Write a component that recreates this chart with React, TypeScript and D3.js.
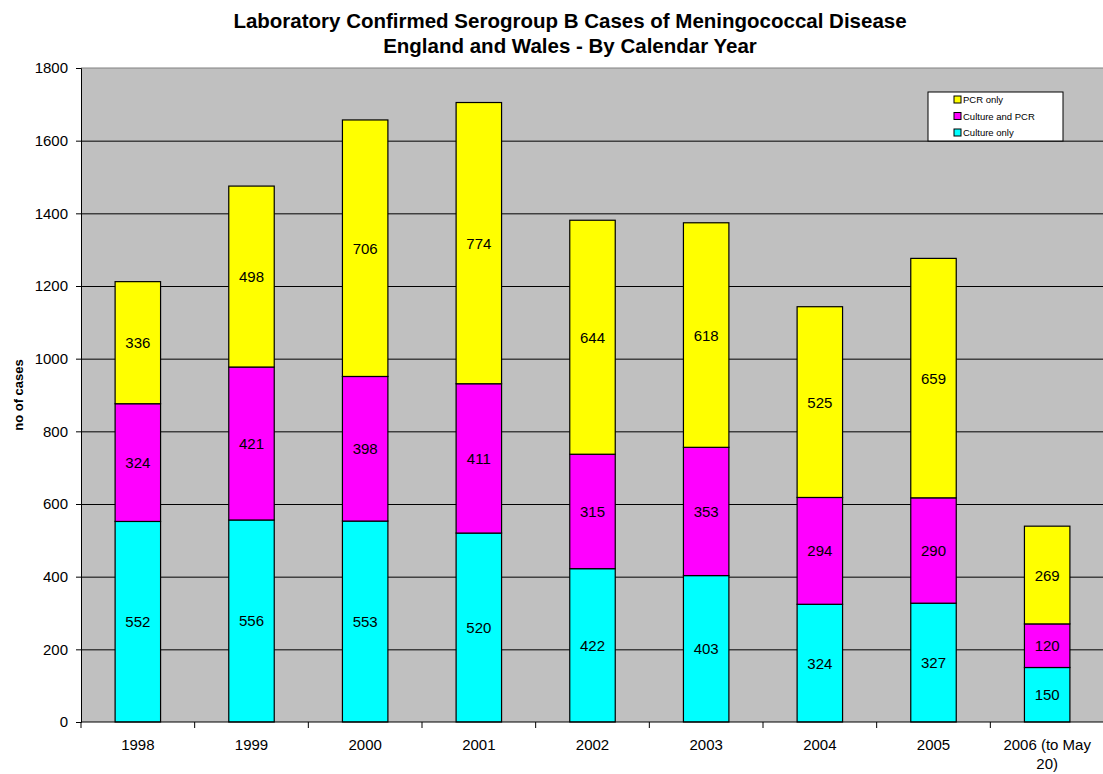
import React, { useEffect, useRef } from "react";
import { select, scaleBand, scaleLinear, stack, axisLeft, range, format } from "d3";

const years = ["1998", "1999", "2000", "2001", "2002", "2003", "2004", "2005", "2006 (to May 20)"];
const cultureOnly = [552, 556, 553, 520, 422, 403, 324, 327, 150];
const cultureAndPcr = [324, 421, 398, 411, 315, 353, 294, 290, 120];
const pcrOnly = [336, 498, 706, 774, 644, 618, 525, 659, 269];
const seriesNames = ["Culture only", "Culture and PCR", "PCR only"];
const seriesColors = ["#00ffff", "#ff00ff", "#ffff00"];
const yTicks = [0, 200, 400, 600, 800, 1000, 1200, 1400, 1600, 1800];

export default function App() {
    const ref = useRef<SVGSVGElement>(null);

    useEffect(() => {
        const width = 1103;
        const height = 774;
        const left = 81;
        const right = 1104;
        const top = 68;
        const bottom = 722;
        const font = "Liberation Sans, Arial, sans-serif";

        const svg = select(ref.current).attr("width", width).attr("height", height);
        svg.selectAll("*").remove();

        const rows = years.map((y, i) => ({
            year: y,
            "Culture only": cultureOnly[i],
            "Culture and PCR": cultureAndPcr[i],
            "PCR only": pcrOnly[i],
        }));

        const x = scaleBand().domain(years).range([left, right]).paddingInner(0).paddingOuter(0);
        const y = scaleLinear().domain([0, 1800]).range([bottom, top]);
        const barW = x.bandwidth() * 0.4;

        // plot area
        svg.append("rect")
            .attr("x", left).attr("y", top)
            .attr("width", right - left).attr("height", bottom - top)
            .attr("fill", "#c0c0c0");
        svg.append("line")
            .attr("x1", left).attr("x2", right).attr("y1", top).attr("y2", top)
            .attr("stroke", "#808080").attr("stroke-width", 1);

        // gridlines
        svg.append("g")
            .selectAll("line")
            .data(yTicks.filter((t) => t > 0 && t < 1800))
            .join("line")
            .attr("x1", left).attr("x2", right)
            .attr("y1", (d) => y(d) + 0.5).attr("y2", (d) => y(d) + 0.5)
            .attr("stroke", "#000").attr("stroke-width", 1);

        // stacked bars
        const series = stack<any>().keys(seriesNames)(rows);
        const layers = svg.append("g")
            .selectAll("g")
            .data(series)
            .join("g")
            .attr("fill", (_d, i) => seriesColors[i]);
        layers.selectAll("rect")
            .data((d) => d)
            .join("rect")
            .attr("x", (d: any) => (x(d.data.year) as number) + (x.bandwidth() - barW) / 2)
            .attr("y", (d) => y(d[1]))
            .attr("width", barW)
            .attr("height", (d) => y(d[0]) - y(d[1]))
            .attr("stroke", "#000").attr("stroke-width", 1.2);

        // value labels
        layers.selectAll("text")
            .data((d) => d)
            .join("text")
            .attr("x", (d: any) => (x(d.data.year) as number) + x.bandwidth() / 2)
            .attr("y", (d) => (y(d[0]) + y(d[1])) / 2 + 5.5)
            .attr("text-anchor", "middle")
            .attr("fill", "#000")
            .style("font", `15px ${font}`)
            .text((d) => String(d[1] - d[0]));

        // y axis
        const yAxis = svg.append("g")
            .attr("transform", `translate(${left},0)`)
            .call(axisLeft(y).tickValues(yTicks).tickFormat(format("d")).tickSize(5).tickPadding(8));
        yAxis.select(".domain").attr("stroke", "#000");
        yAxis.selectAll("text").style("font", `15px ${font}`).attr("fill", "#000");

        // x axis
        svg.append("line")
            .attr("x1", left).attr("x2", right).attr("y1", bottom).attr("y2", bottom)
            .attr("stroke", "#000").attr("stroke-width", 1.2);
        svg.append("g")
            .selectAll("line")
            .data(range(years.length + 1))
            .join("line")
            .attr("x1", (i) => left + i * x.step()).attr("x2", (i) => left + i * x.step())
            .attr("y1", bottom).attr("y2", bottom + 6)
            .attr("stroke", "#000");
        const xl = svg.append("g")
            .selectAll("text")
            .data(years)
            .join("text")
            .attr("x", (d) => (x(d) as number) + x.bandwidth() / 2)
            .attr("y", 750)
            .attr("text-anchor", "middle")
            .style("font", `15px ${font}`);
        xl.each(function (d) {
            const t = select(this);
            const parts = d === "2006 (to May 20)" ? ["2006 (to May", "20)"] : [d];
            parts.forEach((p, i) => {
                t.append("tspan").attr("x", t.attr("x")).attr("dy", i === 0 ? 0 : 19).text(p);
            });
        });

        // title
        const title = svg.append("text")
            .attr("x", 570).attr("y", 28)
            .attr("text-anchor", "middle")
            .style("font", `bold 20.5px ${font}`);
        title.append("tspan").attr("x", 570).text("Laboratory Confirmed Serogroup B Cases of Meningococcal Disease");
        title.append("tspan").attr("x", 570).attr("dy", 25).text("England and Wales - By Calendar Year");

        // y label
        svg.append("text")
            .attr("transform", `translate(23,${(top + bottom) / 2}) rotate(-90)`)
            .attr("text-anchor", "middle")
            .style("font", `bold 13px ${font}`)
            .text("no of cases");

        // legend
        const lg = svg.append("g").attr("transform", "translate(928,92)");
        lg.append("rect").attr("width", 135).attr("height", 49)
            .attr("fill", "#fff").attr("stroke", "#000").attr("stroke-width", 1);
        const legendOrder = [2, 1, 0];
        legendOrder.forEach((si, i) => {
            lg.append("rect")
                .attr("x", 26).attr("y", 4 + i * 16.5)
                .attr("width", 7).attr("height", 7)
                .attr("fill", seriesColors[si]).attr("stroke", "#000");
            lg.append("text")
                .attr("x", 35).attr("y", 11 + i * 16.5)
                .style("font", `9.5px ${font}`)
                .text(seriesNames[si]);
        });
    }, []);

    return (
        <div>
            <svg ref={ref} style={{ position: "absolute", left: 0, top: 0 }}></svg>
        </div>
    );
}
